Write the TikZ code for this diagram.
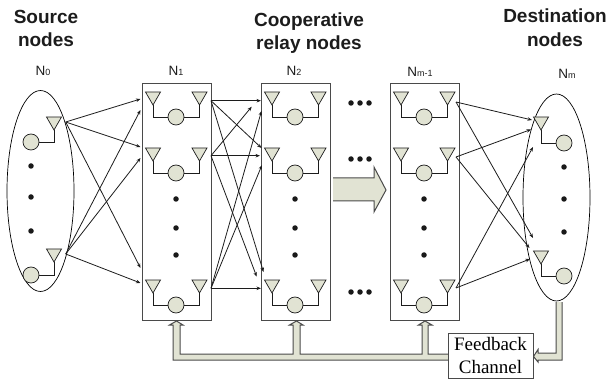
\documentclass[tikz,border=0pt]{standalone}
\usepackage{fontspec}
\setmainfont{Liberation Sans}
\newfontfamily\boxfont{Liberation Serif}
\usetikzlibrary{arrows.meta,shapes.geometric}
\definecolor{khakifill}{HTML}{E1E3D3}
\definecolor{edgegray}{HTML}{4A4A4A}
\definecolor{inkdark}{HTML}{1C1C1C}
\tikzstyle{titletext} = [
    anchor=north,
    align=center,
    inner sep=0pt,
    text=inkdark,
    font=\fontsize{19}{23.5}\selectfont\bfseries
    ]
\tikzstyle{setname} = [
    anchor=base,
    inner sep=0pt,
    text=inkdark,
    font=\fontsize{13.5}{15}\selectfont
    ]
\tikzstyle{relaybox} = [
    draw=edgegray,
    line width=0.8pt,
    rectangle,
    minimum width=69pt,
    minimum height=237pt
    ]
\tikzstyle{nodeset} = [
    draw=black,
    line width=0.7pt,
    ellipse
    ]
\tikzstyle{antennatri} = [draw=inkdark, fill=khakifill, line width=0.7pt]
\tikzstyle{radio} = [
    draw=inkdark,
    fill=khakifill,
    line width=0.7pt,
    circle,
    inner sep=0pt,
    minimum size=16pt
    ]
\tikzstyle{wire} = [draw=inkdark, line width=0.9pt]
\tikzstyle{dotmark} = [fill=black!90, circle, inner sep=0pt, minimum size=5.5pt]
\tikzstyle{link} = [
    draw=inkdark,
    line width=0.8pt,
    -{Stealth[length=4.5pt,width=3.5pt]}
    ]
\tikzstyle{pipe} = [draw=edgegray, fill=khakifill, line width=1pt, line join=miter]
\newcommand{\smallsub}[1]{{\fontsize{9}{10}\selectfont #1}}
\newcommand{\antenna}[3]{% name, x, top y
    \draw[antennatri] (#2-7.5,#3) -- (#2+7.5,#3) -- (#2,#3+13) -- cycle;
    \coordinate (#1) at (#2,#3+13);
}
\newcommand{\relaypair}[3]{% name, box left, row top
    \antenna{#1l}{#2+11}{#3}
    \antenna{#1r}{#2+57.5}{#3}
    \node[radio] (#1c) at (#2+34,#3+25) {};
    \draw[wire] (#1l) |- (#1c);
    \draw[wire] (#1r) |- (#1c);
}
\begin{document}
\begin{tikzpicture}[x=1pt,y=-1pt]
\useasboundingbox (0,0) rectangle (610,379);

% titles
\node[titletext] (titlesrc) at (46,10) {Source\\nodes};
\node[titletext] (titlerelay) at (309,12.5) {Cooperative\\relay nodes};
\node[titletext] (titledst) at (555,9) {Destination\\nodes};

\node[setname] (name0) at (43,76) {N\smallsub{0}};
\node[setname] (name1) at (176,76) {N\smallsub{1}};
\node[setname] (name2) at (294,76) {N\smallsub{2}};
\node[setname] (namem1) at (420,77) {N\smallsub{m-1}};
\node[setname] (namem) at (567,79) {N\smallsub{m}};

% node sets
\node[nodeset, minimum width=67pt, minimum height=201pt] (srcset) at (40.5,191) {};
\node[nodeset, minimum width=67pt, minimum height=207pt] (dstset) at (556.5,197.5) {};
\node[relaybox] (box1) at (176.5,201.5) {};
\node[relaybox] (box2) at (295.5,201.5) {};
\node[relaybox] (box3) at (424.5,201.5) {};

% source side
\antenna{sa}{54}{117}
\antenna{sb}{54}{249}
\node[radio] (sac) at (31,142) {};
\node[radio] (sbc) at (31,275) {};
\draw[wire] (sa) |- (sac);
\draw[wire] (sb) |- (sbc);
\foreach \y [count=\i] in {166,197,231}
    \node[dotmark] (sdot\i) at (31,\y) {};

% destination side
\antenna{da}{541}{117}
\antenna{db}{541}{251}
\node[radio] (dac) at (564,143) {};
\node[radio] (dbc) at (564,276) {};
\draw[wire] (da) |- (dac);
\draw[wire] (db) |- (dbc);
\foreach \y [count=\i] in {167,199,232}
    \node[dotmark] (ddot\i) at (564,\y) {};

% relay columns
\foreach \bx/\bn/\cx in {142/p/176,261/q/295,390/r/424}{
    \relaypair{\bn a}{\bx}{92}
    \relaypair{\bn b}{\bx}{148}
    \relaypair{\bn c}{\bx}{280}
    \foreach \y [count=\i] in {199,228,255}
        \node[dotmark] (\bn dot\i) at (\cx,\y) {};
}

% dots between the columns
\foreach \y [count=\j] in {103,159,292}
    \foreach \x [count=\i] in {351,360,369}
        \node[dotmark] (gap\j\i) at (\x,\y) {};

% link ends
\coordinate (s1) at (65.7,122);
\coordinate (s2) at (65.7,254);
\coordinate (a1) at (140.5,99);
\coordinate (a2) at (140.5,110);
\coordinate (a3) at (140.5,147);
\coordinate (a4) at (140.5,158);
\coordinate (a5) at (140.5,268);
\coordinate (a6) at (140.5,283);
\coordinate (u1) at (211,100.7);
\coordinate (u2) at (211,155.7);
\coordinate (u3) at (211,288.3);
\coordinate (b1) at (261,100.7);
\coordinate (b2) at (251.7,106.7);
\coordinate (b3) at (261.5,111);
\coordinate (b4) at (261.5,148);
\coordinate (b5) at (260,155.7);
\coordinate (b6) at (262,165);
\coordinate (b7) at (263.5,272);
\coordinate (b8) at (256.7,276.7);
\coordinate (b9) at (261,288.3);
\coordinate (v1) at (456,102);
\coordinate (v2) at (456,157);
\coordinate (v3) at (456,288);
\coordinate (d1) at (532,120);
\coordinate (d2) at (531,129.5);
\coordinate (d3) at (533,147);
\coordinate (d4) at (533,238);
\coordinate (d5) at (529.5,248);
\coordinate (d6) at (530,259);

\foreach \from/\to in {s1/a1,s1/a3,s1/a5,s2/a2,s2/a4,s2/a6,
    u1/b1,u1/b4,u1/b7,u2/b2,u2/b5,u2/b8,u3/b3,u3/b6,u3/b9,
    v1/d1,v1/d4,v2/d2,v2/d5,v3/d3,v3/d6}
    \draw[link] (\from) -- (\to);

% big arrow
\draw[pipe] (333,178) -- (374,178) -- (374,167) -- (386,190) -- (374,212) -- (374,201) -- (333,201);

% feedback
\draw[pipe] (173,360) -- (173,325) -- (169.5,325) -- (176.5,321) -- (183,325) -- (180,325) -- (180,354)
    -- (293,354) -- (293,325) -- (289.5,325) -- (296.5,321) -- (303,325) -- (300,325) -- (300,354)
    -- (422,354) -- (422,325) -- (418.5,325) -- (425,321) -- (432,325) -- (428,325) -- (428,354)
    -- (450,354) -- (450,360) -- cycle;
\draw[pipe] (556,302) -- (556,353) -- (538,353) -- (538,349.5) -- (533.5,356.5) -- (538,362) -- (538,360)
    -- (562,360) -- (562,302);
\node[draw=edgegray, line width=0.8pt, fill=white, minimum width=85pt, minimum height=45pt,
    inner sep=0pt, align=center, font=\fontsize{19}{22}\selectfont\boxfont] (feedback) at (490.5,355.5) {Feedback\\Channel};
\end{tikzpicture}
\end{document}
